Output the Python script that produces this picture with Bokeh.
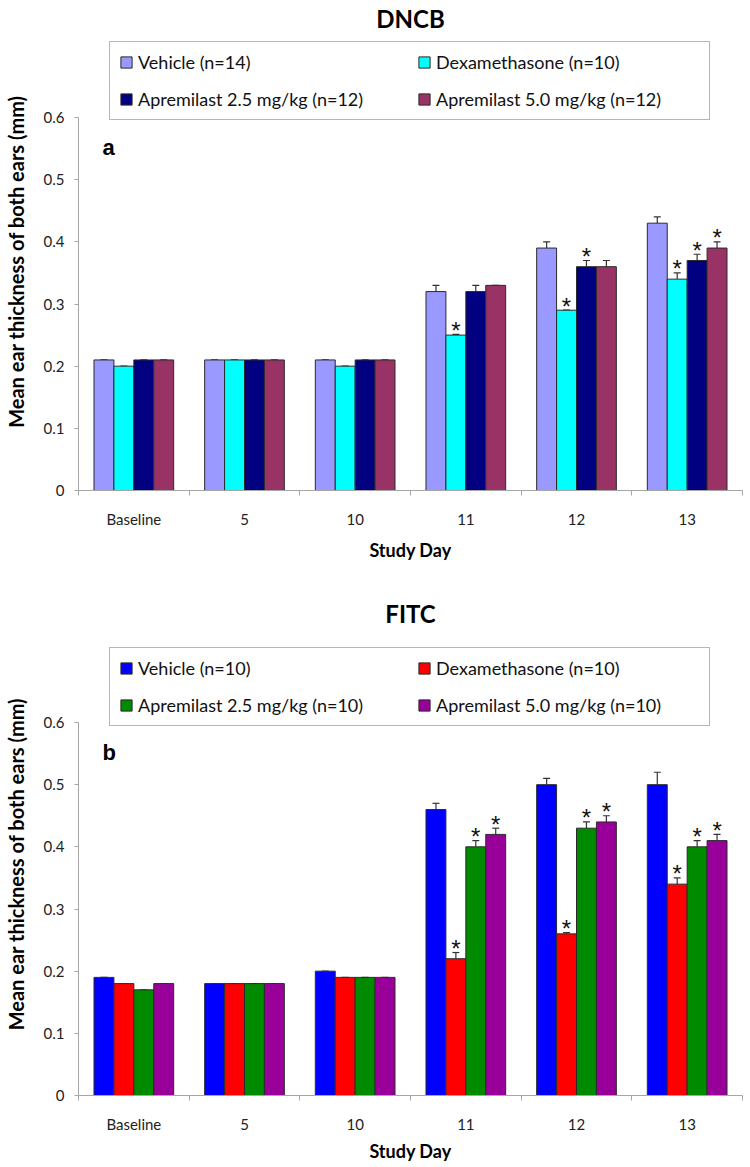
from bokeh.plotting import figure
from bokeh.models import (FactorRange, Range1d, LinearAxis, FixedTicker, Legend, LegendItem,
                          Whisker, TeeHead, ColumnDataSource, Label)
from bokeh.transform import dodge
from bokeh.layouts import column
from bokeh.embed import file_html
from bokeh.resources import INLINE
from bokeh.core.properties import value as value_font

# ---------------- data ----------------
days = ["Baseline", "5", "10", "11", "12", "13"]
yticks = [0, 0.1, 0.2, 0.3, 0.4, 0.5, 0.6]
ytick_labels = ["0", "0.1", "0.2", "0.3", "0.4", "0.5", "0.6"]

# Panel a: DNCB
dncb_names = ["Vehicle (n=14)", "Dexamethasone (n=10)",
              "Apremilast 2.5 mg/kg (n=12)", "Apremilast 5.0 mg/kg (n=12)"]
dncb_vehicle = [0.21, 0.21, 0.21, 0.32, 0.39, 0.43]
dncb_vehicle_err = [0.0, 0.0, 0.0, 0.01, 0.01, 0.01]
dncb_dex = [0.20, 0.21, 0.20, 0.25, 0.29, 0.34]
dncb_dex_err = [0.0, 0.0, 0.0, 0.001, 0.0, 0.01]
dncb_ap25 = [0.21, 0.21, 0.21, 0.32, 0.36, 0.37]
dncb_ap25_err = [0.0, 0.0, 0.0, 0.01, 0.01, 0.01]
dncb_ap50 = [0.21, 0.21, 0.21, 0.33, 0.36, 0.39]
dncb_ap50_err = [0.0, 0.0, 0.0, 0.0, 0.01, 0.01]
dncb_vehicle_star = [0, 0, 0, 0, 0, 0]
dncb_dex_star = [0, 0, 0, 1, 1, 1]
dncb_ap25_star = [0, 0, 0, 0, 1, 1]
dncb_ap50_star = [0, 0, 0, 0, 0, 1]

# Panel b: FITC
fitc_names = ["Vehicle (n=10)", "Dexamethasone (n=10)",
              "Apremilast 2.5 mg/kg (n=10)", "Apremilast 5.0 mg/kg (n=10)"]
fitc_vehicle = [0.19, 0.18, 0.20, 0.46, 0.50, 0.50]
fitc_vehicle_err = [0.0, 0.0, 0.0, 0.01, 0.01, 0.02]
fitc_dex = [0.18, 0.18, 0.19, 0.22, 0.26, 0.34]
fitc_dex_err = [0.0, 0.0, 0.0, 0.01, 0.002, 0.01]
fitc_ap25 = [0.17, 0.18, 0.19, 0.40, 0.43, 0.40]
fitc_ap25_err = [0.0, 0.0, 0.0, 0.01, 0.01, 0.01]
fitc_ap50 = [0.18, 0.18, 0.19, 0.42, 0.44, 0.41]
fitc_ap50_err = [0.0, 0.0, 0.0, 0.01, 0.01, 0.01]
fitc_vehicle_star = [0, 0, 0, 0, 0, 0]
fitc_dex_star = [0, 0, 0, 1, 1, 1]
fitc_ap25_star = [0, 0, 0, 1, 1, 1]
fitc_ap50_star = [0, 0, 0, 1, 1, 1]

dncb_colors = ["#9999FF", "#00FFFF", "#000080", "#993366"]
fitc_colors = ["#0000FF", "#FF0000", "#008A00", "#990099"]

# ---------------- styling ----------------
FONT = "Lato"
offsets = [-0.27, -0.09, 0.09, 0.27]
BAR_W = 0.18
AXIS_PX = 373  # pixel height of the 0..0.6 axis span


def make_panel(title, names, vals, errs, stars, colors, letter,
               top_border, frame_h, bottom_border, title_standoff, legend_y, xlabel_standoff):
    y_top = 0.6 * frame_h / AXIS_PX
    p = figure(x_range=FactorRange(factors=days, range_padding=0),
               y_range=Range1d(0, y_top),
               frame_width=664, frame_height=frame_h,
               min_border_left=73, min_border_right=3,
               min_border_top=top_border, min_border_bottom=bottom_border,
               x_axis_type=None, output_backend="svg", toolbar_location=None,
               title=title)
    p.outline_line_color = None
    p.grid.visible = False
    p.background_fill_color = "white"
    p.border_fill_color = "white"

    p.title.text_font = FONT
    p.title.text_font_size = "24px"
    p.title.text_font_style = "bold"
    p.title.text_color = "black"
    p.title.align = "center"
    p.title.standoff = title_standoff

    # y axis
    ya = p.yaxis[0]
    ya.bounds = (0, 0.6)
    ya.ticker = FixedTicker(ticks=yticks, minor_ticks=[])
    ya.major_label_overrides = {t: l for t, l in zip(yticks, ytick_labels)}
    ya.axis_line_color = "#a6a6a6"
    ya.major_tick_line_color = "#a6a6a6"
    ya.major_tick_out = 4
    ya.major_tick_in = 0
    ya.minor_tick_line_color = None
    ya.major_label_text_font = FONT
    ya.major_label_text_font_size = "15px"
    ya.major_label_text_color = "#222222"
    ya.major_label_standoff = 10
    ya.axis_label = "Mean ear thickness of both ears (mm)"
    ya.axis_label_text_font = FONT
    ya.axis_label_text_font_size = "20px"
    ya.axis_label_text_font_style = "bold"
    ya.axis_label_text_color = "black"
    ya.axis_label_standoff = 13

    # x axis: labels at category centres, ticks at category boundaries
    # (synthetic coordinates of the factor range: factor i spans [i, i+1])
    xa = LinearAxis(ticker=FixedTicker(ticks=[i + 0.5 for i in range(len(days))],
                                       minor_ticks=[float(i) for i in range(len(days) + 1)]),
                    major_label_overrides={i + 0.5: d for i, d in enumerate(days)})
    xa.axis_line_color = "#a6a6a6"
    xa.major_tick_line_color = None
    xa.major_tick_out = 0
    xa.major_tick_in = 0
    xa.minor_tick_line_color = "#a6a6a6"
    xa.minor_tick_out = 5
    xa.minor_tick_in = 0
    xa.major_label_text_font = FONT
    xa.major_label_text_font_size = "15px"
    xa.major_label_text_color = "#222222"
    xa.major_label_standoff = 14
    xa.axis_label = "Study Day"
    xa.axis_label_text_font = FONT
    xa.axis_label_text_font_size = "18px"
    xa.axis_label_text_font_style = "bold"
    xa.axis_label_text_color = "black"
    xa.axis_label_standoff = xlabel_standoff
    p.add_layout(xa, "below")

    items = []
    for name, v, e, s, c, off in zip(names, vals, errs, stars, colors, offsets):
        hi = [a + b for a, b in zip(v, e)]
        src = ColumnDataSource(dict(day=days, val=v, hi=hi))
        r = p.vbar(x=dodge("day", off, range=p.x_range), top="val", width=BAR_W,
                   source=src, fill_color=c, line_color="#2b2b2b", line_width=1)
        items.append(LegendItem(label=name, renderers=[r]))
        p.add_layout(Whisker(source=src, base=dodge("day", off, range=p.x_range),
                             upper="hi", lower="val", dimension="height",
                             line_color="#333333", line_width=1.2,
                             upper_head=TeeHead(size=7, line_color="#333333", line_width=1.2),
                             lower_head=None))
        sd = [d for d, f in zip(days, s) if f]
        sy = [h for h, f in zip(hi, s) if f]
        if sd:
            ssrc = ColumnDataSource(dict(day=sd, y=sy, t=["*"] * len(sd)))
            p.text(x=dodge("day", off, range=p.x_range), y="y", text="t", source=ssrc,
                   text_align="center", text_baseline="alphabetic", y_offset=-4,
                   text_font=value_font("Liberation Sans"),
                   text_font_size="24px", text_color="#111111")

    legend = Legend(items=items, orientation="horizontal", ncols=2,
                    location=(31, legend_y), margin=0,
                    padding=9, spacing=15,
                    glyph_width=14, glyph_height=14, label_standoff=5,
                    label_width=264, label_height=22,
                    label_text_font=FONT, label_text_font_size="18px",
                    label_text_color="#111111",
                    border_line_color="#6e6e6e", border_line_width=1.5,
                    background_fill_color="white")
    p.add_layout(legend)

    p.add_layout(Label(x=24, y=343, x_units="screen", y_units="screen", text=letter,
                       text_font="Liberation Sans", text_font_style="bold",
                       text_font_size="22px", text_baseline="middle", text_color="black"))
    return p


pa = make_panel("DNCB", dncb_names,
                [dncb_vehicle, dncb_dex, dncb_ap25, dncb_ap50],
                [dncb_vehicle_err, dncb_dex_err, dncb_ap25_err, dncb_ap50_err],
                [dncb_vehicle_star, dncb_dex_star, dncb_ap25_star, dncb_ap50_star],
                dncb_colors, "a", 32, 458, 82, 0, 370, 8)
pb = make_panel("FITC", fitc_names,
                [fitc_vehicle, fitc_dex, fitc_ap25, fitc_ap50],
                [fitc_vehicle_err, fitc_dex_err, fitc_ap25_err, fitc_ap50_err],
                [fitc_vehicle_star, fitc_dex_star, fitc_ap25_star, fitc_ap50_star],
                fitc_colors, "b", 60, 463, 56, 10, 369, 4)

layout = column(pa, pb)
open("out.html", "w").write(file_html(layout, INLINE))
